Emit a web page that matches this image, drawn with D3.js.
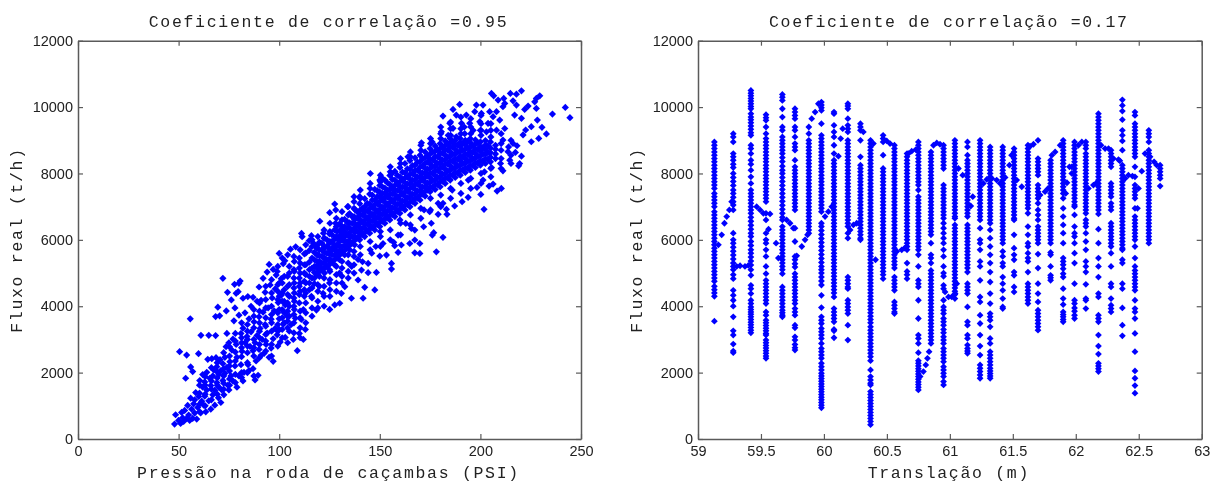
<!DOCTYPE html>
<html><head><meta charset="utf-8">
<script src="https://cdn.jsdelivr.net/npm/d3@7"></script>
<style>
html,body{margin:0;padding:0;background:#fff;overflow:hidden}
svg{display:block;filter:blur(0.35px)}
.tick text{font-family:"Liberation Sans",Arial,sans-serif;font-size:14.5px;fill:#222}
.lab{font-family:"Liberation Mono","Courier New",monospace;font-size:16.5px;letter-spacing:1.7px;fill:#222;text-anchor:middle}
</style></head><body><svg id="c" width="1215" height="482"></svg>
<script>
const titles=["Coeficiente de correlação =0.95","Coeficiente de correlação =0.17"];
const xLabels=["Pressão na roda de caçambas (PSI)","Translação (m)"];
const yLabel="Fluxo real (t/h)";
const yTicks=[0,2000,4000,6000,8000,10000,12000];
const xTicksLeft=[0,50,100,150,200,250];
const xTicksRight=[59,59.5,60,60.5,61,61.5,62,62.5,63];

// Left panel: sparse points [PSI, t/h]
const lowPressurePoints=[[48,450],[48.5,730],[50,560],[50.5,2630],[51,470],[51.5,800],[52,640],[52.5,530],[53,860],[53.5,1830],[54,2530],[54,620],[54.5,1010],[55,720],[55.5,560],[55.8,3620],[56,1230],[56,2170],[56.5,900],[57,2030],[57,620],[57.5,1060],[58,1180],[58,780],[58.5,1400],[59,600],[59.5,950],[59.9,2570],[60,1280],[60.5,1760],[61,790],[61.1,3125],[61.5,1140],[62,1940],[62,1560],[62.5,1020],[63,1720],[63,1290],[63.5,820],[64,2010],[64,1480],[64.5,2400],[65,3125],[65,1150],[65.5,1830],[66,900],[66,1610],[66.5,2420],[67,1330],[67,1900],[67.5,2080],[68,1020],[68,1470],[68.4,3115],[68.4,3690],[68.6,2450],[69,1700],[69,2180],[69.5,3970],[69.8,1240],[70,1560],[70,1950],[70.4,3710],[70.6,2390],[71,1100],[71,2060],[71.5,1480],[72,4840],[72,1760],[72,2270],[72.5,1330],[73,1980],[73,2460],[73.7,3860],[73.6,2780],[74,3180],[74,2160],[74.3,4420],[74.5,1620],[75,2900],[75,1480],[75.5,2330],[76,1900],[76.2,4190],[76.5,2680],[77,3010],[77,1750],[77.5,3560],[77.8,4660],[78,2200],[78,3950],[78.6,4390],[78.6,2850],[79,1560],[79,2460],[79.6,4440],[80,4690],[80,1900],[80,3730],[80.6,4760],[81,3180],[81,2240],[81.5,2640],[82,4240],[82,1750],[82,3340],[82.5,2010],[83,3800],[83,2900],[84,3090],[84.4,4290],[84.5,2240],[85,3620],[85,2060],[85.5,2790],[86,4000],[86,3230],[87,4270],[87,2120],[87,2660],[87.5,3530],[88,2900],[88,1780],[88.5,2350],[89,4150],[89,3120],[89.5,1920],[90,4580],[90,3680],[90,2700],[90.5,3330],[91,2520],[91,4180],[91.5,3000],[92,4840],[92,3820],[92.5,2580],[93,3450],[93,4420],[93.5,2850],[94,5030],[94,3190],[94.5,3950],[95,5260],[95,2460],[95.5,4640],[96,3610],[96,2740],[96.5,4250],[97,3020],[97,5110],[97,2340],[97.5,3860],[98,4520],[98,3330],[98.5,4940],[99,3140],[99,5050],[99.5,4110],[100,3620],[100,5590],[100.5,2920],[101,4330],[101,4830],[102,5280],[102,3460],[102.8,5370],[103,3060],[103,4040],[104,3700],[105,3250],[105.6,5720],[106,3450],[107,3000],[108.2,5790],[108,3640],[109,2660],[110,3180],[111,3600],[112,3000],[112,3900],[113,3300]];
const bandFringePoints=[[205.5,10410],[206.6,10340],[208.8,10210],[211.6,10260],[214.9,10410],[217.9,10390],[220.4,10490],[216.2,10190],[217.9,10060],[212.1,10110],[220.4,9660],[217,9760],[222,9930],[223.7,10030],[227,10160],[227.8,10260],[229.5,10340],[227.8,9960],[235.8,9790],[242.2,9990],[244.5,9680],[228.3,9610],[225.3,9410],[222.5,9310],[221.2,9160],[230.6,9390],[232.8,9190],[229,9055],[225.3,8955],[216.2,8905],[218.2,8835],[220.4,8520],[217.4,8635],[213.7,8655],[214.6,8400],[219.5,8300],[219,8230],[211.2,8080],[205.5,8180],[206.3,7680],[204.3,7620],[210.4,7550],[208.3,7470],[200.2,7370],[198.3,7580],[201.3,7800],[201.8,6920],[193.9,7280],[190.9,7150],[187.2,7020],[183.1,6920],[183.4,6770],[179,6770],[181.4,7100],[179,7100],[174.8,6850],[175.6,6500],[171.8,6395],[176.8,6215],[176.1,6145],[181.4,6075],[178.1,5640],[169.9,5590],[167.4,5610],[169.9,5890],[167.4,5995],[165.7,6345],[167.4,6295],[162.9,6495],[159.1,6145],[156.9,5925],[157.4,5825],[159.1,5620],[160.7,5845],[164.9,5890],[151.6,5890],[150,5510],[153.3,5540],[155.8,5290],[155.8,5120],[148.3,5020],[144.2,5010],[140.9,5090],[144.2,5290],[141.4,5340],[139.2,5410],[142.5,4570],[147.5,4490],[141.7,4240],[135.9,4240],[139.2,4790],[132.6,4590],[130.9,4390],[127.6,4040],[125.1,3905],[130.1,4090],[121.8,4390],[118.5,3885],[145.3,7999],[150.8,7880],[127.6,7080],[125.1,6820],[128.1,6900],[120.2,6560],[111.1,6195],[111.4,6095],[116,6125],[114.9,5975],[181.4,9730],[186.4,9930],[189.7,10080],[188,9760],[184.8,9510],[180.6,9255],[170.7,8925],[198,10060],[201.3,10060],[197.2,9860],[200.5,9810],[204.6,9860],[208,9860],[211.2,10010],[193,9760],[190.6,9510],[194.7,9510],[186.4,9360],[188,9105],[199.7,9560],[203.8,9510],[209.6,9610],[212.1,9355],[211.2,9005],[206.3,9710],[196.4,9300],[192.2,9200],[203,9255],[208,9305],[146,5600],[136,5200],[130,5000],[125,4700],[120,4600],[116,4300],[148,5800],[172,6900],[160,6600],[186,7500],[194,7800],[202,8050],[210,8300],[214,8800],[128,6500],[122,6200],[117,5900],[140,7300],[134,7000],[150,7800],[156,8000],[164,8500],[176,8950],[184,9150],[192,9400],[200,9300]];

// Left panel: dense band, [PSI, t/h, t/h, ...]
const denseBandColumns=[
[100,3300,3900,4300,4700],[102.5,3500,3800,4150,4500,4900],[105,3700,4000,4300,4650,5000,5200],[107.5,3900,4150,4400,4700,5050,5350],
[110,4100,4350,4600,4850,5150,5450],[112.5,4300,4500,4750,5000,5250,5580],[115,4500,4700,4900,5100,5330,5680],[117.5,4680,4850,5020,5200,5400,5620,5830],
[120,4900,5050,5200,5350,5520,5700,5930],[122.5,5000,5150,5300,5460,5620,5800,6050],[125,5100,5260,5420,5570,5730,5900,6180],[127.5,5250,5400,5540,5700,5850,6020,6300],
[130,5400,5540,5680,5820,5960,6110,6280,6480],[132.5,5550,5680,5820,5950,6090,6240,6400,6620],[135,5700,5830,5960,6090,6220,6360,6510,6790],[137.5,5850,5980,6100,6230,6360,6490,6620,6920],
[140,6000,6130,6250,6370,6490,6610,6740,6880,7090],[142.5,6100,6220,6350,6470,6590,6720,6850,7000,7240],[145,6200,6330,6450,6570,6700,6820,6950,7080,7380],[147.5,6300,6430,6550,6680,6800,6930,7060,7200,7520],
[150,6400,6530,6650,6780,6900,7030,7160,7300,7440,7640],[152.5,6500,6630,6760,6880,7010,7140,7270,7400,7560,7800],[155,6600,6730,6860,6990,7120,7250,7380,7520,7670,7940],[157.5,6700,6830,6960,7100,7230,7360,7500,7640,7800,8060],
[160,6800,6930,7070,7200,7330,7470,7610,7750,7900,8180],[162.5,6900,7040,7170,7310,7440,7580,7720,7860,8020,8300],[165,7000,7140,7280,7410,7550,7690,7830,7970,8130,8390],[167.5,7100,7240,7380,7520,7660,7800,7940,8090,8250,8470],
[170,7200,7340,7480,7620,7760,7900,8040,8190,8350,8550],[172.5,7320,7460,7600,7740,7880,8020,8160,8300,8470,8650],[175,7450,7590,7730,7870,8010,8150,8290,8430,8590,8750],[177.5,7520,7660,7800,7940,8080,8220,8360,8510,8670,8830],
[180,7600,7750,7890,8030,8170,8310,8450,8600,8750,8900],[182.5,7700,7850,7990,8130,8270,8410,8550,8700,8840,8980],[185,7800,7950,8090,8230,8370,8510,8650,8790,8920,9050],[187.5,7880,8030,8170,8310,8450,8590,8730,8870,9000],
[190,7950,8100,8240,8380,8520,8660,8800,8930,9050],[192.5,8030,8170,8310,8450,8590,8730,8870,9000],[195,8100,8240,8380,8520,8660,8800,8930,9050],[197.5,8180,8320,8460,8600,8740,8880,9010],
[200,8250,8390,8530,8670,8810,8950],[202.5,8300,8440,8580,8720,8860,8990],[205,8350,8490,8630,8770,8950],[207.5,8450,8590,8730,8850]];
const bandCoreColumns=[
[118.75,4950,5150,5350,5550,5750],[121.25,5100,5300,5500,5700,5900],[123.75,5200,5400,5600,5800,6000],[126.25,5350,5550,5750,5950,6150],[128.75,5450,5650,5850,6050,6250],[131.25,5600,5800,6000,6200,6400],[133.75,5750,5950,6150,6350,6550],[136.25,5900,6100,6300,6500,6700],[138.75,6050,6250,6450,6650,6850],[141.25,6150,6350,6550,6750,6950],[143.75,6270,6470,6670,6870,7100],[146.25,6370,6570,6770,6970,7200,7350],[148.75,6460,6670,6880,7090,7300,7480],[151.25,6560,6770,6980,7190,7400,7600],[153.75,6660,6870,7080,7290,7500,7720],[156.25,6760,6970,7180,7390,7600,7820],[158.75,6860,7070,7280,7490,7700,7940],[161.25,6960,7170,7380,7590,7800,8040],[163.75,7060,7270,7480,7690,7900,8140],[166.25,7160,7370,7580,7790,8000,8240],[168.75,7260,7470,7680,7890,8100,8340],[171.25,7380,7590,7800,8010,8220,8440],[173.75,7500,7710,7920,8130,8340,8540],[176.25,7580,7790,8000,8210,8420,8640],[178.75,7670,7880,8090,8300,8510,8720],[181.25,7770,7980,8190,8400,8610,8800],[183.75,7870,8080,8290,8500,8710,8900],[186.25,7950,8160,8370,8580,8790,8950],[188.75,8020,8230,8440,8650,8860],[191.25,8100,8300,8500,8700,8900],[193.75,8170,8370,8570,8770,8970],[196.25,8240,8440,8640,8840],[198.75,8320,8520,8720,8920],[201.25,8380,8580,8780],[203.75,8430,8630,8830]];
// Left panel: the looser cloud around and below the band
const looseCloudColumns=[
[60.4,820,1050,1380,1620],[63.2,1000,1350,1620,1880],[66.3,1180,1500,1750,2150],[69.2,1350,1620,1840,2020,2300],[72.4,1500,1680,1900,2120,2600],[75.3,1620,1810,2050,2200,2500,2780],
[78.2,1700,1950,2350,2620,2950,3180],[81.3,1850,2000,2480,2750,2900,3050,3500],[84.2,2000,2300,2600,2800,3000,3250,3450],[87.4,1900,2500,2750,3000,3350,3700,3900],[90.2,2450,2850,3050,3250,3500,3850,4100],[93.3,2650,2950,3150,3400,3650,3950,4200,4600],
[96.2,2500,2850,3250,3500,3750,4000,4400,4800],[99.3,2800,3250,3450,3800,4200,4450,4650,5200],[101.5,3050,3300,3650,3900,4150,4400,4700,5450],[104.2,2900,3350,3550,3850,4100,4350,4600,4900,5550],[107.3,3200,3500,3750,4000,4250,4550,4850,5100,5500],[110.4,3050,3350,3650,3850,4450,4700,5000,5300,5700],
[113.2,3500,3800,4100,4400,4700,4950,5250,5600,5850],[116.3,3700,3950,4250,4550,4850,5150,5450,5800,6000],[119.2,3950,4150,4450,4650,4950,5250,5550,5850,6100],[122.3,4000,4300,4600,4850,5150,5450,5750,6050,6300],[125.2,4300,4500,4800,5050,5350,5650,5950,6250,6500],[128.4,4450,4700,4950,5200,5500,5800,6100,6400,6650],
[131.2,4700,4900,5150,5350,5650,6000,6300,6600,6850],[134.3,4850,5050,5300,5550,5850,6150,6500,6750,7000],[137.2,5000,5250,5500,5650,6700,6950,7150,7300],[140.3,5550,5800,7250,7500],[145.2,5700,5950,7550,7700],[150.3,5800,6100,6250,7750,7950],[155.2,6000,6300,8050,8200],[160.3,6150,6500,8300,8450],
[165.2,6450,6750,8500,8650],[170.4,6650,6950,8700,8850],[175.2,6900,7250,8900,9050],[180.3,7000,7350,9050,9200,9400],[185.2,7250,7550,9150,9350,9550],[190.3,7400,7700,9200,9350,9700],[195.2,7550,7850,9200,9400,9650],[200.3,7700,8000,9150,9300,9500,9750],[205.2,7900,8150,9100,9300,9500],[210.3,8150,8450,8700,8900,9200],[215.2,8300,8550,9000]];

// Right panel: vertical runs [position in m, t/h, t/h, ...]
const translationColumns=[
[59.13,8950,8850,8750,8650,8550,8450,8350,8250,8150,8050,7950,7850,7750,7650,7550,7400,7300,7200,7100,7000,6850,6750,6650,6550,6450,6350,6250,6150,6050,5950,5850,5750,5650,5550,5450,5350,5250,5150,5050,4950,4850,4750,4600,4500,4400,4300,3550],
[59.28,9200,9100,8950,8600,8500,8400,8280,8180,8000,7880,7760,7640,7500,7400,7280,7150,7050,6900,6200,6000,5900,5780,5660,5540,5420,5300,5200,5100,4950,4830,4480,4330,4180,4000,3680,3260,3130,2860,2650,2600],
[59.42,10500,10420,10340,10260,10180,10100,10020,9950,9800,9700,9620,9530,9430,9330,9230,9150,8850,8750,8600,8400,8280,8100,7900,7700,7500,7400,7300,7200,7100,7000,6900,6800,6680,6560,6440,6320,6200,6100,5950,5830,5700,5600,5480,5360,5240,5100,4930,4630,4530,4380,4180,4080,3980,3900,3830,3760,3680,3600,3520,3440,3360,3280,3200],
[59.54,9770,9680,9600,9400,9200,9050,8950,8850,8750,8650,8550,8450,8350,8250,8150,8050,7950,7850,7750,7650,7550,7450,7350,7250,7150,6800,6600,6200,6000,5900,5700,5500,5200,4980,4780,4680,4580,4480,4380,4280,4180,4080,3830,3730,3580,3500,3420,3340,3260,3180,3130,2980,2900,2820,2740,2660,2580,2500,2430],
[59.67,10380,10300,10200,9950,9700,9400,9300,9100,9000,8900,8800,8700,8600,8480,8360,8220,8100,8000,7880,7760,7640,7520,7400,7280,7160,7040,6920,6800,6680,6600,6400,6300,6200,6100,6000,5900,5800,5700,5600,5500,5400,5300,5200,5100,4980,4580,4480,4380,4280,4180,4080,3980,3880,3800,3730,3680],
[59.77,9950,9850,9750,9650,9400,9300,9100,8900,8800,8700,8400,8200,8100,8000,7900,7800,7700,7600,7500,7400,7300,7200,7100,7000,6900,6350,5950,5500,5400,5280,5180,4980,4880,4780,4680,4580,4480,4380,4280,4180,4080,3930,3830,3730,3430,3350,3080,2980,2850,2750,2680],
[59.88,9400,9200,9000,8900,8800,8700,8600,8500,8400,8300,8200,8100,8000,7900,7800,7700,7600,7500,7400,7300,7200,7100,7000,6900,6800,6700,6600,6500,6400,6300,6200],
[59.98,10150,10060,9980,9900,9500,9150,9050,8950,8850,8750,8650,8550,8450,8350,8250,8150,8050,7950,7850,7750,7650,7550,7450,7350,7250,7150,7050,6950,6850,6500,6400,6280,6160,6040,5920,5800,5680,5560,5440,5320,5200,5100,5000,4880,4760,4640,4330,3960,3680,3580,3480,3330,3230,3130,3030,2880,2730,2630,2530,2430,2280,2180,2080,1980,1900,1820,1740,1660,1580,1500,1420,1340,1260,1180,1100,1020,940],
[60.08,9850,9800,9450,9250,9100,8850,8600,8400,8300,8200,8100,8000,7900,7800,7700,7600,7500,7400,7300,7200,7100,7000,6900,6800,6700,6600,6500,6400,6300,6200,6100,6000,5900,5800,5700,5600,5500,5400,5300,5200,5100,5000,4900,4800,4700,4600,4500,4400,4280,3930,3830,3730,3630,3530,3300,3260,3050],
[60.19,10100,10030,9950,9650,9450,9350,9250,9000,8900,8800,8700,8600,8500,8400,8300,8200,8100,8000,7900,7800,7700,7600,7500,7400,7300,7200,7100,7000,6900,6800,6700,6600,6500,6400,6200,6050,4880,4780,4680,4580,4530,4180,4080,3980,3880,3780,3430,2980],
[60.29,9500,9400,9300,9000,8500,8250,8150,8050,7950,7850,7750,7650,7550,7450,7350,7250,7150,7050,6950,6850,6750,6650,6550,6450,6350,6250,6150,6050,6000],
[60.37,9000,8900,8800,8700,8600,8500,8400,8300,8200,8100,8000,7900,7800,7700,7600,7500,7400,7300,7200,7100,7000,6900,6800,6700,6600,6500,6400,6300,6200,6100,6000,5900,5800,5700,5600,5500,5400,5300,5200,5100,5000,4900,4800,4700,4600,4500,4400,4300,4200,4100,4000,3900,3800,3700,3600,3500,3380,3280,3180,3080,2980,2880,2780,2680,2580,2480,2360,2080,1880,1780,1680,1630,1430,1340,1250,1160,1070,980,890,800,710,620,530,430],
[60.47,9150,9050,8950,8550,8150,8050,7950,7850,7750,7650,7550,7450,7350,7250,7150,7050,6950,6850,6750,6650,6550,6450,6350,6250,6150,6050,5950,5850,5750,5650,5550,5450,5350,5250,5150,5050,4950,4830],
[60.56,8850,8750,8650,8550,8450,8350,8250,8150,8050,7950,7850,7750,7650,7550,7450,7350,7250,7150,7050,6950,6850,6750,6650,6550,6450,6350,6250,6150,6050,5950,5850,5750,5650,5550,5450,5350,5250,5150,4880,4780,4680,4580,4480,4130,4030,3930,3830,3780],
[60.66,8600,8500,8400,8300,8200,8100,8000,7900,7800,7700,7600,7500,7400,7300,7200,7100,7000,6900,6800,6700,6600,6500,6400,6300,6200,6100,6000,5900,5800,5700,5300,5050,4950,4830],
[60.75,8950,8850,8750,8650,8550,8450,8350,8250,8150,8050,7950,7850,7750,7650,7500,7300,7200,7100,7000,6900,6800,6700,6600,6500,6400,6300,6200,6100,6000,5900,5800,5700,5550,5200,4780,4680,4580,4180,3630,3130,3030,2880,2600,2360,2280,2200,2120,2040,1960,1880,1800,1720,1640,1560,1480],
[60.85,8650,8550,8450,8350,8250,8150,8050,7950,7850,7750,7650,7550,7450,7350,7250,7150,7050,6950,6850,6750,6650,6550,6450,6350,6250,6150,5900,5550,5450,5300,5080,4980,4880,4780,4680,4580,4480,4380,4280,4180,4080,3980,3880,3780,3680,3580,3480,3380,3280,3180,3080,2980,2880],
[60.95,8850,8750,8650,8550,8450,8350,8250,8150,7650,7550,7450,7350,7250,7150,7050,6950,6850,6750,6650,6500,6350,6200,6050,5900,5700,5500,5200,5000,4900,4630,4530,4180,3980,3880,3780,3630,3530,3430,3300,3200,3080,2980,2880,2730,2630,2530,2430,2330,2180,2080,1980,1880,1730,1630],
[61.04,9000,8900,8800,8700,8600,8500,8400,8300,8200,8100,8000,7900,7800,7700,7600,7500,7400,7300,7200,7100,7000,6900,6800,6700,6650,6450,6350,6250,6150,6050,5950,5850,5750,5650,5550,5450,5350,5250,5150,5050,4950,4850,4750,4650,4550,4450,4350,4230],
[61.14,8950,8800,8550,8400,8300,8200,8100,8000,7900,7800,7700,7600,7500,7400,7300,7200,7100,7000,6900,6800,6700,6450,6350,6250,6150,6050,5950,5850,5750,5650,5550,5450,5350,5250,5150,5030,4680,4580,4480,4380,3980,3530,3430,3130,3030,2830,2730,2650,2580],
[61.24,9000,8900,8800,8700,8600,8500,8400,8300,8200,8100,8000,7900,7800,7700,7600,7500,7400,7300,7200,7100,7000,6900,6800,6700,6600,6350,6000,5900,5700,5350,5200,4780,4280,4130,3730,3480,3130,2800,2530,2230,2130,2030,1930,1830],
[61.32,8800,8700,8600,8500,8400,8300,8200,8100,8000,7900,7800,7700,7600,7500,7400,7300,7200,7100,7000,6900,6800,6700,6600,6500,6300,6050,5800,5550,5300,5030,4730,4380,4080,3780,3680,3580,3380,3030,2880,2630,2530,2430,2330,2230,2130,2050,1970,1900,1830],
[61.42,8800,8700,8600,8500,8400,8300,8200,8100,8000,7900,7800,7700,7600,7500,7400,7300,7200,7100,7000,6900,6800,6700,6600,6500,6400,6300,6200,6100,6000,5900,5650,5500,5300,5200,4880,4680,4480,4230,3980,3930],
[61.51,8750,8650,8550,8450,8350,8250,8150,8050,7950,7850,7750,7650,7550,7450,7350,7250,7150,7050,6950,6850,6750,6650,6600,6150,5750,5550,5400,5030,4930,4580,4430],
[61.62,8850,8750,8650,8550,8450,8350,8250,8150,8050,7950,7850,7750,7650,7550,7450,7350,7250,7150,7050,6950,6800,6400,6150,5900,5800,5600,5450,5350,5030,4680,4580,4480,4380,4280,4180,4080],
[61.70,9000,8450,8350,8250,8150,8050,7950,7650,7550,7450,7350,7250,7100,6900,6750,6600,6400,6300,6200,6100,6000,5900,5570,5150,4680,4380,4130,3880,3780,3680,3580,3480,3380,3280],
[61.80,8400,8300,8200,8100,8000,7900,7800,7700,7600,7500,7400,7300,7200,7100,7000,6900,6800,6700,6600,6500,6400,6300,6200,6100,6000,5900,5620,5550,5200,4930,4860,4780],
[61.90,9000,8900,8800,8700,8600,8500,8400,8300,8200,8100,8000,7900,7800,7700,7600,7500,7400,7250,6950,6700,6450,6200,5900,5450,5350,5250,5130,4980,4880,4530,4230,4050,3830,3750,3680,3600,3530],
[61.99,8950,8850,8750,8650,8550,8450,8350,8250,8150,8050,7950,7850,7750,7650,7550,7450,7350,7250,7150,7050,7000,6750,6400,6200,6100,5900,5600,5300,4680,4180,4080,3950,3850,3730,3630],
[62.08,8950,8850,8750,8600,8500,8400,8300,8200,8100,8000,7900,7800,7700,7600,7500,7400,7300,7200,7100,7000,6900,6800,6600,6500,6400,6200,5950,5700,5350,5200,5030,4660,4230,4180,3930],
[62.18,9800,9700,9600,9500,9400,9300,9200,9100,9000,8900,8800,8700,8600,8500,8400,8300,8200,8100,8000,7900,7800,7700,7600,7500,7400,7300,7200,7100,7000,6900,6780,6320,5900,5450,5200,4880,4380,4280,3730,3630,3530,3130,2800,2560,2280,2200,2120,2030],
[62.28,8700,8600,8500,8400,8300,8200,7700,7600,7500,7400,7300,7100,7000,6900,6500,6400,6300,6200,6100,6000,5900,5800,5600,5200,4680,4580,4230,4030,3930,3830],
[62.37,10220,10050,9880,9620,9300,9150,8980,8700,8250,8150,8050,7950,7850,7750,7650,7550,7450,7350,7250,7150,7050,6950,6850,6750,6650,6550,6450,6350,6250,6150,6050,5950,5850,5750,5700,5400,5300,4680,4530,3950,3430,3110],
[62.47,9850,9750,9500,9400,9300,9200,9100,9000,8900,8800,8700,8600,8500,8200,7900,7650,7550,7450,7350,7250,6950,6700,6600,6500,6400,6300,6200,6100,6000,5800,5450,5200,5080,4980,4880,4780,4680,4580,4480,4180,3930,3830,3630,3180,2630,2050,1830,1610,1380],
[62.58,9300,9200,9100,8950,8700,8600,8500,8400,8300,8200,8100,8000,7900,7800,7700,7600,7500,7400,7300,7200,7100,7000,6900,6800,6700,6600,6500,6400,6300,6200,6100,6000,5900],
[62.67,8250,8150,8050,7950,7850,7620]];
const translationLinks=[[59.162,5850],[59.188,6150],[59.21,6500],[59.228,6700],[59.249,6900],[59.267,7150],[59.307,5200],[59.334,5220],[59.373,5200],[59.40,5230],[59.466,7000],[59.493,6900],[59.519,6800],[59.572,6780],[59.56,6320],[59.62,5900],[59.638,5450],[59.704,6600],[59.731,6500],[59.757,6350],[59.784,5520],[59.824,5800],[59.85,6000],[59.87,6150],[59.903,9650],[59.93,9850],[59.956,10100],[60.009,6700],[60.035,6850],[60.062,7000],[60.115,8520],[60.133,9050],[60.149,9350],[60.208,6300],[60.234,6450],[60.26,6500],[60.313,9250],[60.393,8900],[60.41,5400],[60.499,8980],[60.525,8900],[60.578,5650],[60.618,5700],[60.64,5750],[60.671,8600],[60.697,8670],[60.73,8720],[60.87,8850],[60.896,8920],[60.922,8880],[60.764,1880],[60.79,2030],[60.809,2230],[60.822,2430],[60.835,2630],[60.962,4430],[60.989,4280],[61.015,4280],[61.042,4380],[61.055,4680],[61.068,8150],[61.102,7950],[61.166,7020],[61.182,7300],[61.266,7700],[61.293,7820],[61.333,7850],[61.372,7800],[61.399,7700],[61.439,7880],[61.473,8250],[61.49,8550],[61.531,7800],[61.571,7600],[61.637,8820],[61.664,8880],[61.717,7350],[61.756,7450],[61.78,7550],[61.81,8550],[61.836,8650],[61.876,8850],[61.93,7720],[61.92,7400],[61.95,8200],[61.968,8200],[61.968,8000],[62.021,8850],[62.048,8950],[62.1,7550],[62.14,7650],[62.16,7700],[62.2,8850],[62.233,8750],[62.26,8750],[62.299,8450],[62.339,8420],[62.35,8380],[62.392,7850],[62.418,7950],[62.45,7920],[62.498,7550],[62.49,6950],[62.524,8070],[62.55,8600],[62.59,8500],[62.622,8350],[62.643,8250]];

const blue="#0000ff", axisColor="#5a5a5a";
const svg=d3.select("#c");
const expand=cols=>cols.flatMap(([x,...ys])=>ys.map(y=>[x,y]));
const panels=[
 {x0:78,x1:581,dom:[0,250],ticks:xTicksLeft,fmt:d3.format("d"),
  pts:lowPressurePoints.concat(bandFringePoints,expand(denseBandColumns),expand(bandCoreColumns),expand(looseCloudColumns)),size:26},
 {x0:698,x1:1201.7,dom:[59,63],ticks:xTicksRight,fmt:d=>String(d),
  pts:expand(translationColumns).concat(translationLinks),size:23}
];
const yScale=d3.scaleLinear().domain([0,12000]).range([439,40.7]);
panels.forEach((p,i)=>{
 const g=svg.append("g");
 const xScale=d3.scaleLinear().domain(p.dom).range([p.x0,p.x1]);
 const sym=d3.symbol().type(d3.symbolSquare).size(p.size);
 g.append("g").selectAll("path").data(p.pts).join("path")
  .attr("d",sym).attr("fill",blue)
  .attr("transform",d=>`translate(${xScale(d[0])},${yScale(d[1])}) rotate(45)`);
 const style=s=>{s.select(".domain").attr("stroke",axisColor).attr("stroke-width",1.5);
  s.selectAll(".tick line").attr("stroke",axisColor).attr("stroke-width",1.2);};
 const xb=d3.axisBottom(xScale).tickValues(p.ticks).tickFormat(p.fmt).tickSizeInner(-5).tickSizeOuter(0).tickPadding(7);
 const xt=d3.axisTop(xScale).tickValues(p.ticks).tickFormat("").tickSizeInner(-5).tickSizeOuter(0);
 const yl=d3.axisLeft(yScale).tickValues(yTicks).tickFormat(d3.format("d")).tickSizeInner(-5).tickSizeOuter(0).tickPadding(5);
 const yr=d3.axisRight(yScale).tickValues(yTicks).tickFormat("").tickSizeInner(-5).tickSizeOuter(0);
 g.append("g").attr("transform","translate(0,439)").call(xb).call(style);
 g.append("g").attr("transform","translate(0,40.7)").call(xt).call(style);
 g.append("g").attr("transform",`translate(${p.x0},0)`).call(yl).call(style);
 g.append("g").attr("transform",`translate(${p.x1},0)`).call(yr).call(style);
 const cx=(p.x0+p.x1)/2;
 g.append("text").attr("class","lab").attr("x",cx-1).attr("y",27).text(titles[i]);
 g.append("text").attr("class","lab").attr("x",cx-1).attr("y",478).text(xLabels[i]);
 g.append("text").attr("class","lab").attr("transform",`translate(${p.x0-56},240) rotate(-90)`).text(yLabel);
});
</script></body></html>
